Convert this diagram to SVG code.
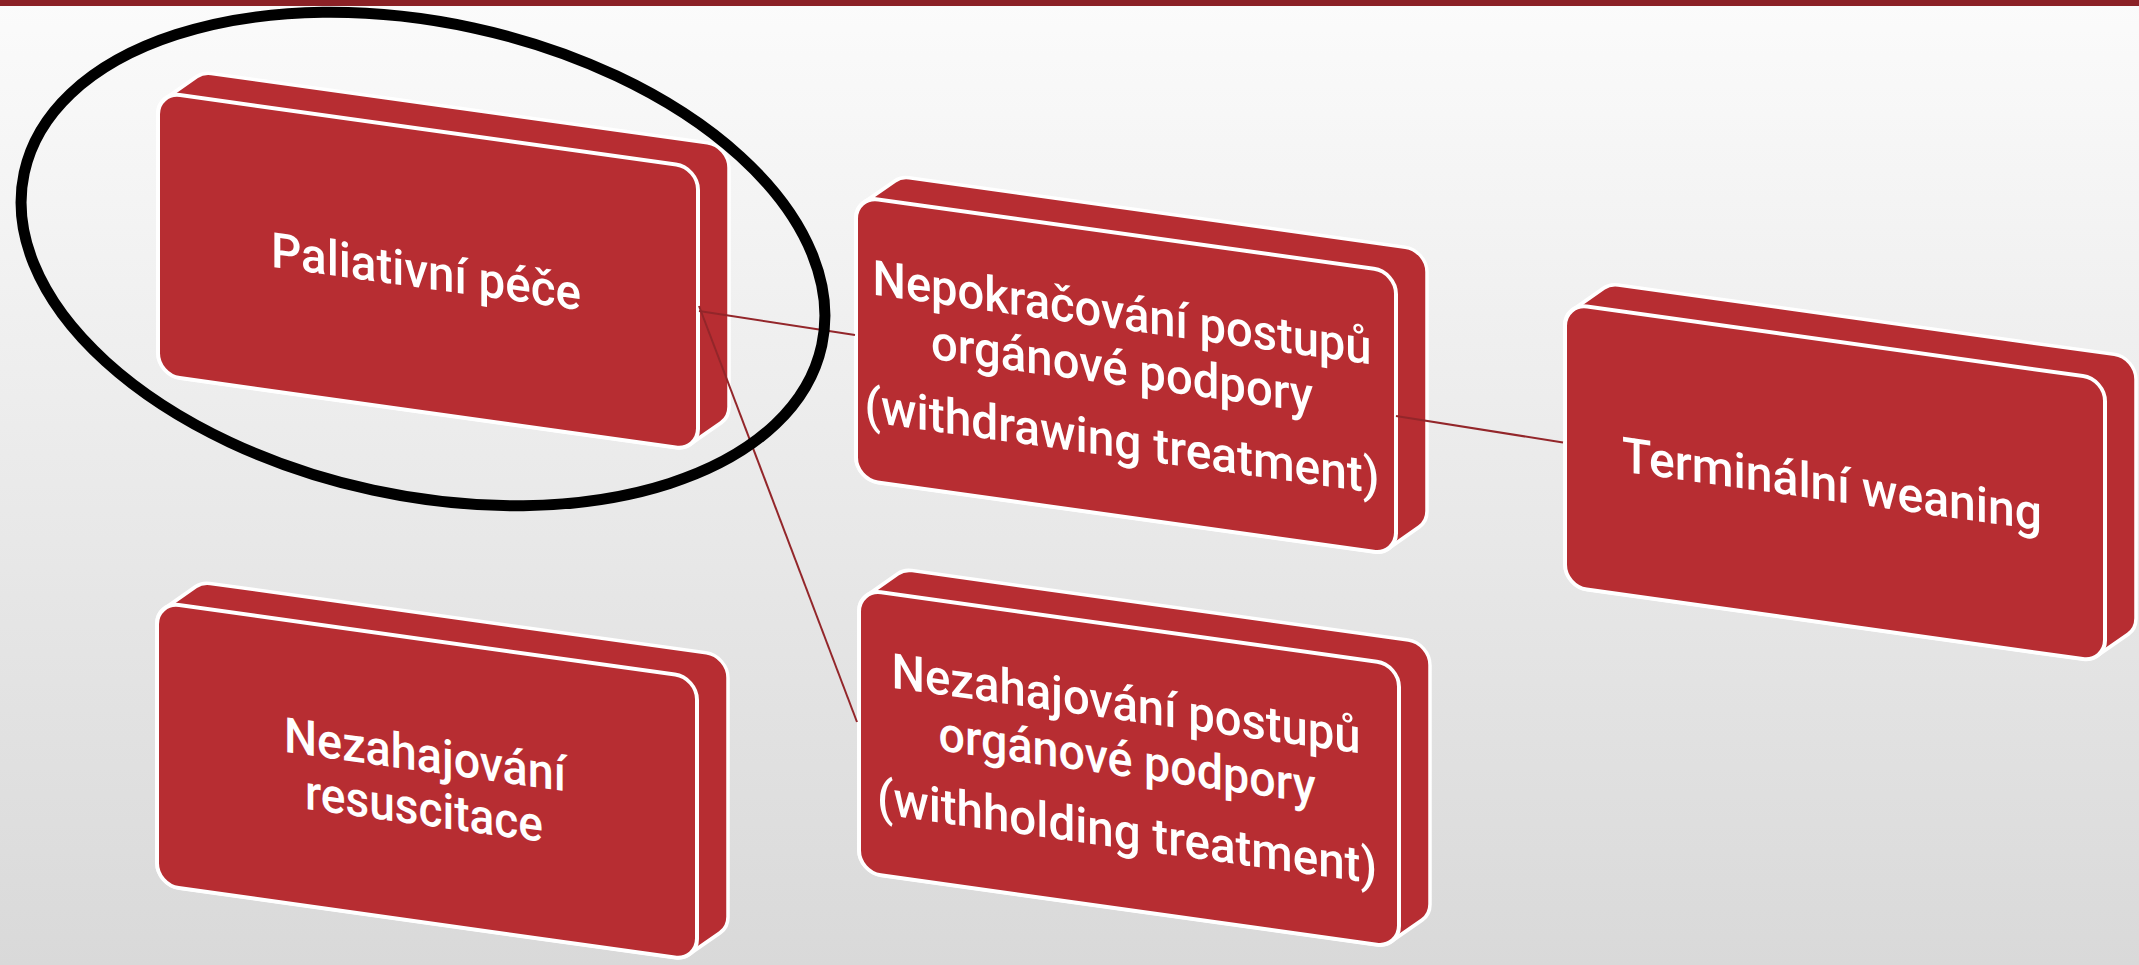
<svg xmlns="http://www.w3.org/2000/svg" xmlns:xlink="http://www.w3.org/1999/xlink" width="2139" height="965" viewBox="0 0 2139 965">
  <style>
    .depth{fill:#B72D32;stroke:#ffffff;stroke-width:3.5;stroke-linejoin:round}
    .face{fill:#B72D32;stroke:#ffffff;stroke-width:4}
    .lbl{font-family:Roboto,"Liberation Sans",Arial,sans-serif;font-weight:500;font-size:49px;fill:#ffffff;text-anchor:middle}
    .conn{stroke:#93262A;stroke-width:2;fill:none}
  </style>
  <defs>
    <linearGradient id="bg" x1="0" y1="0" x2="0" y2="1">
      <stop offset="0" stop-color="#FBFBFB"/>
      <stop offset="1" stop-color="#D9D9D9"/>
    </linearGradient>
    <path id="depthShape" d="M 7.85 5.15 L 38.85 -20.85 A 22 22 0 0 1 53 -26 L 549 -26 A 22 22 0 0 1 571 -4 L 571 235 A 22 22 0 0 1 563.15 251.85 L 532.15 277.85 A 22 22 0 0 1 518 283 L 22 283 A 22 22 0 0 1 0 261 L 0 22 A 22 22 0 0 1 7.85 5.15 Z"/>
    <rect id="faceShape" x="0" y="0" width="540" height="283" rx="22" ry="22"/>
  </defs>

  <rect x="0" y="0" width="2139" height="965" fill="url(#bg)"/>
  <rect x="0" y="0" width="2139" height="6" fill="#8B2126"/>

  <g id="node-paliativni" transform="matrix(1,0.14,0,1,158,92)">
    <use xlink:href="#depthShape" class="depth"/>
    <use xlink:href="#faceShape" class="face"/>
    <text class="lbl" x="268" y="159" textLength="310" lengthAdjust="spacingAndGlyphs">Paliativní péče</text>
  </g>

  <g id="node-nepokracovani" transform="matrix(1,0.14,0,1,856,196.3)">
    <use xlink:href="#depthShape" class="depth"/>
    <use xlink:href="#faceShape" class="face"/>
    <text class="lbl" x="266" y="96" textLength="499" lengthAdjust="spacingAndGlyphs">Nepokračování postupů</text>
    <text class="lbl" x="266" y="152" textLength="382" lengthAdjust="spacingAndGlyphs">orgánové podpory</text>
    <text class="lbl" x="266" y="224" textLength="515" lengthAdjust="spacingAndGlyphs">(withdrawing treatment)</text>
  </g>

  <g id="node-terminalni" transform="matrix(1,0.14,0,1,1565,303.5)">
    <use xlink:href="#depthShape" class="depth"/>
    <use xlink:href="#faceShape" class="face"/>
    <text class="lbl" x="267" y="160" textLength="420" lengthAdjust="spacingAndGlyphs">Terminální weaning</text>
  </g>

  <g id="node-resuscitace" transform="matrix(1,0.14,0,1,157,602)">
    <use xlink:href="#depthShape" class="depth"/>
    <use xlink:href="#faceShape" class="face"/>
    <text class="lbl" x="268" y="132" textLength="282" lengthAdjust="spacingAndGlyphs">Nezahajování</text>
    <text class="lbl" x="267" y="186" textLength="238" lengthAdjust="spacingAndGlyphs">resuscitace</text>
  </g>

  <g id="node-nezahajovani" transform="matrix(1,0.14,0,1,859,589.2)">
    <use xlink:href="#depthShape" class="depth"/>
    <use xlink:href="#faceShape" class="face"/>
    <text class="lbl" x="267" y="94" textLength="469" lengthAdjust="spacingAndGlyphs">Nezahajování postupů</text>
    <text class="lbl" x="268" y="150" textLength="377" lengthAdjust="spacingAndGlyphs">orgánové podpory</text>
    <text class="lbl" x="268" y="222" textLength="500" lengthAdjust="spacingAndGlyphs">(withholding treatment)</text>
  </g>

  <g id="connectors">
    <line class="conn" x1="699" y1="311" x2="855" y2="335"/>
    <line class="conn" x1="699" y1="306" x2="857" y2="722"/>
    <line class="conn" x1="1396" y1="416" x2="1563" y2="442.5"/>
  </g>

  <g id="highlight">
    <ellipse cx="423" cy="259" rx="408" ry="236.5" transform="rotate(12.2 423 259)" fill="none" stroke="#000000" stroke-width="11"/>
  </g>
</svg>
